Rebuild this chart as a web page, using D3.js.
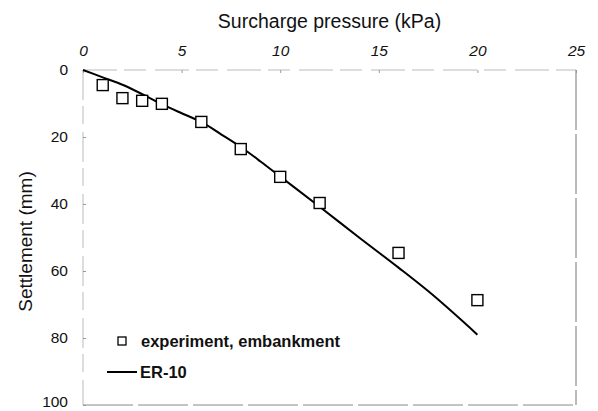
<!DOCTYPE html>
<html>
<head>
<meta charset="utf-8">
<script src="https://cdn.jsdelivr.net/npm/d3@7"></script>
<style>
  body { margin: 0; background: #fff; }
  text { font-family: Arial, "Liberation Sans", sans-serif; fill: #111; }
</style>
</head>
<body>
<div id="chart"></div>
<script>
// experiment, embankment (squares)
var expPressure = [1, 2, 3, 4, 6, 8, 10, 12, 16, 20];
var expSettlement = [4.5, 8.4, 9.2, 10.1, 15.5, 23.6, 31.9, 39.7, 54.6, 68.7];

// ER-10 (line)
var erPressure = [0, 1, 2, 3, 4, 5, 6, 7, 8, 9, 10, 12, 14, 16, 17.5, 20];
var erSettlement = [0, 2.2, 4.4, 7.2, 10.2, 12.9, 15.5, 19.2, 23, 27.3, 31.8, 40.8, 50, 59, 66, 79];

var xTicks = [0, 5, 10, 15, 20, 25];
var yTicks = [0, 20, 40, 60, 80, 100];

var svgWidth = 598;
var svgHeight = 411;
var margin = { top: 70, right: 22, bottom: 6, left: 83 };
var width = svgWidth - margin.left - margin.right;
var height = svgHeight - margin.top - margin.bottom;

var svg = d3.select("#chart")
  .append("svg")
  .attr("width", svgWidth)
  .attr("height", svgHeight);

var chartGroup = svg.append("g")
  .attr("transform", `translate(${margin.left}, ${margin.top})`);

var x = d3.scaleLinear().domain([0, 25]).range([0, width]);
var y = d3.scaleLinear().domain([0, 100]).range([0, height]);

// frame (scanned look: top/left lighter and broken)
chartGroup.append("line")
  .attr("x1", 0).attr("x2", width).attr("y1", 0).attr("y2", 0)
  .attr("stroke", "#bbb").attr("stroke-dasharray", "34,7,22,9");
chartGroup.append("line")
  .attr("x1", 0).attr("x2", 0).attr("y1", 0).attr("y2", height)
  .attr("stroke", "#bbb").attr("stroke-dasharray", "30,6,18,8");
chartGroup.append("line")
  .attr("x1", width).attr("x2", width).attr("y1", 0).attr("y2", height)
  .attr("stroke", "#777").attr("stroke-dasharray", "60,4");
chartGroup.append("line")
  .attr("x1", 0).attr("x2", width).attr("y1", height).attr("y2", height)
  .attr("stroke", "#888").attr("stroke-dasharray", "50,5");

// top axis
var topAxis = d3.axisTop(x).tickValues(xTicks).tickSize(-3).tickPadding(14);
var gx = chartGroup.append("g").call(topAxis);
gx.select(".domain").remove();
gx.selectAll(".tick line").attr("stroke", "#999");
gx.selectAll(".tick text")
  .style("font-size", "15.5px")
  .style("font-style", "italic")
  .attr("fill", "#111");

// left axis
var leftAxis = d3.axisLeft(y).tickValues(yTicks).tickSize(-3).tickPadding(15);
var gy = chartGroup.append("g").call(leftAxis);
gy.select(".domain").remove();
gy.selectAll(".tick line").attr("stroke", "#999");
gy.selectAll(".tick text")
  .style("font-size", "15.5px")
  .attr("fill", "#111")
  .attr("dy", function(d) { return d === 100 ? "0.1em" : "0.32em"; });

// axis titles
svg.append("text")
  .attr("x", margin.left + width / 2)
  .attr("y", 28)
  .attr("text-anchor", "middle")
  .style("font-size", "19.5px")
  .text("Surcharge pressure (kPa)");

svg.append("text")
  .attr("transform", `translate(32, ${margin.top + height / 2 + 4}) rotate(-90)`)
  .attr("text-anchor", "middle")
  .style("font-size", "19px")
  .text("Settlement (mm)");

// ER-10 line
var erData = erPressure.map(function(p, i) { return { p: p, s: erSettlement[i] }; });
var line = d3.line()
  .x(function(d) { return x(d.p); })
  .y(function(d) { return y(d.s); })
  .curve(d3.curveMonotoneX);

chartGroup.append("path")
  .datum(erData)
  .attr("fill", "none")
  .attr("stroke", "#000")
  .attr("stroke-width", 2)
  .attr("d", line);

// experiment squares
var expData = expPressure.map(function(p, i) { return { p: p, s: expSettlement[i] }; });
var sq = 11;
chartGroup.selectAll("rect.exp")
  .data(expData)
  .enter().append("rect")
  .attr("class", "exp")
  .attr("x", function(d) { return x(d.p) - sq / 2; })
  .attr("y", function(d) { return y(d.s) - sq / 2; })
  .attr("width", sq)
  .attr("height", sq)
  .attr("fill", "#fff")
  .attr("stroke", "#000")
  .attr("stroke-width", 1.4);

// legend
var legend = svg.append("g");
legend.append("rect")
  .attr("x", 118).attr("y", 337)
  .attr("width", 8).attr("height", 8)
  .attr("fill", "#fff").attr("stroke", "#000").attr("stroke-width", 1.3);
legend.append("text")
  .attr("x", 141).attr("y", 347)
  .style("font-size", "16.5px")
  .style("font-weight", "bold")
  .text("experiment, embankment");
legend.append("line")
  .attr("x1", 107).attr("x2", 137).attr("y1", 372).attr("y2", 372)
  .attr("stroke", "#000").attr("stroke-width", 2);
legend.append("text")
  .attr("x", 140).attr("y", 378)
  .style("font-size", "16.5px")
  .style("font-weight", "bold")
  .text("ER-10");
</script>
</body>
</html>
